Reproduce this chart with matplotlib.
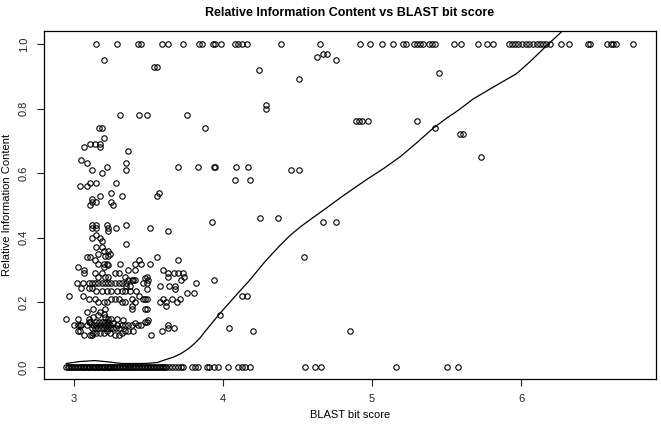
import numpy as np
import matplotlib
matplotlib.use('Agg')
import matplotlib.pyplot as plt

plt.rcParams['font.family'] = ['Liberation Sans', 'DejaVu Sans']

# points with Relative Information Content = 1.0
top_x = [3.15, 3.29, 3.43, 3.45, 3.59, 3.63, 3.73, 3.84, 3.86, 3.935, 3.95, 3.99,
         4.08, 4.10, 4.13, 4.16, 4.39, 4.65, 4.92, 4.99, 5.07, 5.14, 5.21, 5.23,
         5.28, 5.30, 5.32, 5.34, 5.38, 5.40, 5.42, 5.55, 5.60, 5.71, 5.77, 5.81,
         5.92, 5.94, 5.96, 5.98, 6.005, 6.03, 6.05, 6.08, 6.105, 6.13, 6.15, 6.17,
         6.195, 6.27, 6.32, 6.45, 6.46, 6.575, 6.60, 6.62, 6.64, 6.75]

# points with Relative Information Content = 0.0
zero_x = [2.95, 2.96, 2.97, 2.98, 2.99, 3.00, 3.01, 3.02, 3.03, 3.04, 3.05, 3.06,
          3.065, 3.07, 3.08, 3.09, 3.10, 3.105, 3.11, 3.12, 3.13, 3.135, 3.14, 3.15,
          3.16, 3.165, 3.17, 3.18, 3.19, 3.20, 3.205, 3.21, 3.22, 3.23, 3.235, 3.24,
          3.25, 3.26, 3.265, 3.27, 3.28, 3.29, 3.30, 3.31, 3.32, 3.33, 3.34, 3.35,
          3.36, 3.37, 3.38, 3.39, 3.40, 3.41, 3.42, 3.43, 3.44, 3.45, 3.46, 3.47,
          3.48, 3.49, 3.50, 3.51, 3.52, 3.53, 3.54, 3.55, 3.56, 3.57, 3.58, 3.59,
          3.60, 3.61, 3.62, 3.64, 3.66, 3.68, 3.70, 3.72, 3.73, 3.79, 3.81, 3.83,
          3.89, 3.91, 3.94, 3.97, 4.035, 4.10, 4.13, 4.15, 4.18, 4.55, 4.62, 4.66,
          5.16, 5.50, 5.58]

# everything in between
mid_pts = [
    (3.20, 0.95), (3.54, 0.93), (3.56, 0.93), (4.24, 0.92), (4.29, 0.81), (4.29, 0.80),
    (4.51, 0.89), (4.63, 0.96), (4.67, 0.97), (4.70, 0.97), (4.76, 0.95), (5.45, 0.91),
    (4.89, 0.76), (4.91, 0.76), (4.93, 0.76), (4.97, 0.76), (5.30, 0.76), (5.42, 0.74),
    (5.59, 0.72), (5.61, 0.72), (5.73, 0.65),
    (3.31, 0.78), (3.44, 0.78), (3.49, 0.78), (3.76, 0.78),
    (3.17, 0.74), (3.19, 0.74), (3.88, 0.74), (3.20, 0.71),
    (3.07, 0.68), (3.11, 0.69), (3.14, 0.69), (3.175, 0.69), (3.175, 0.68), (3.36, 0.67),
    (3.05, 0.64), (3.09, 0.63), (3.22, 0.62), (3.35, 0.63), (3.35, 0.61),
    (3.12, 0.61), (3.19, 0.60),
    (3.70, 0.62), (3.83, 0.62), (3.94, 0.62), (3.95, 0.62), (4.09, 0.62), (4.17, 0.62),
    (4.08, 0.58), (4.18, 0.58), (4.46, 0.61), (4.51, 0.61),
    (3.04, 0.56), (3.09, 0.56), (3.11, 0.57), (3.15, 0.57), (3.28, 0.57),
    (3.25, 0.54), (3.32, 0.53), (3.175, 0.53), (3.12, 0.52), (3.12, 0.51), (3.15, 0.51),
    (3.11, 0.50), (3.25, 0.51), (3.26, 0.50), (3.57, 0.54), (3.555, 0.53),
    (4.25, 0.46), (4.37, 0.46), (4.67, 0.45), (4.76, 0.45), (3.93, 0.45),
    (4.545, 0.34), (4.85, 0.11),
    (3.12, 0.44), (3.15, 0.44), (3.22, 0.44), (3.12, 0.43), (3.15, 0.43), (3.23, 0.43),
    (3.23, 0.42), (3.28, 0.43), (3.35, 0.44), (3.51, 0.43), (3.63, 0.42),
    (3.12, 0.40), (3.15, 0.41), (3.175, 0.40), (3.19, 0.39), (3.35, 0.38),
    (3.15, 0.37), (3.19, 0.37), (3.20, 0.36), (3.23, 0.36), (3.24, 0.35), (3.23, 0.345),
    (3.16, 0.35), (3.21, 0.345),
    (3.085, 0.34), (3.11, 0.34), (3.14, 0.33), (3.16, 0.32), (3.20, 0.32), (3.22, 0.32),
    (3.20, 0.31), (3.23, 0.315), (3.31, 0.32), (3.41, 0.32), (3.44, 0.33), (3.45, 0.32),
    (3.51, 0.32), (3.555, 0.34), (3.70, 0.33),
    (3.03, 0.31), (3.07, 0.30), (3.07, 0.29), (3.14, 0.29), (3.16, 0.28), (3.19, 0.29),
    (3.21, 0.28), (3.23, 0.28), (3.275, 0.29), (3.30, 0.29), (3.36, 0.30), (3.41, 0.30),
    (3.34, 0.28), (3.36, 0.27), (3.39, 0.27), (3.40, 0.27),
    (3.60, 0.30), (3.63, 0.29), (3.67, 0.29), (3.70, 0.29), (3.73, 0.29), (3.74, 0.28),
    (3.63, 0.28), (3.72, 0.27), (3.58, 0.25), (3.64, 0.25), (3.68, 0.25), (3.68, 0.24),
    (3.76, 0.23), (3.805, 0.23), (3.82, 0.26), (3.94, 0.27),
    (3.58, 0.20), (3.60, 0.21), (3.62, 0.20), (3.62, 0.19), (3.66, 0.21), (3.69, 0.20),
    (3.71, 0.21), (4.13, 0.22), (4.16, 0.22), (3.98, 0.16), (4.04, 0.12), (4.20, 0.11),
    (3.67, 0.12), (3.63, 0.13), (3.63, 0.12), (3.59, 0.11), (3.52, 0.10), (3.49, 0.14),
    (3.02, 0.26), (3.06, 0.26), (3.10, 0.26), (3.12, 0.26), (3.14, 0.26), (3.16, 0.26),
    (3.19, 0.26), (3.21, 0.26), (3.23, 0.26), (3.25, 0.26), (3.275, 0.26), (3.30, 0.26),
    (3.32, 0.26), (3.35, 0.26), (3.465, 0.26), (3.49, 0.26), (3.48, 0.275),
    (3.41, 0.27), (3.38, 0.25), (3.35, 0.25), (3.50, 0.27), (3.49, 0.28), (3.49, 0.24),
    (3.05, 0.245), (3.10, 0.245), (3.12, 0.245), (3.15, 0.235), (3.19, 0.235),
    (3.22, 0.235), (3.25, 0.235), (3.29, 0.235), (3.32, 0.235), (3.34, 0.235),
    (3.38, 0.235), (3.42, 0.235), (3.44, 0.22), (3.465, 0.21), (3.49, 0.21),
    (2.97, 0.22), (3.06, 0.22), (3.10, 0.21), (3.14, 0.21), (3.16, 0.20), (3.20, 0.20),
    (3.22, 0.20), (3.25, 0.21), (3.275, 0.21), (3.30, 0.21), (3.32, 0.20), (3.34, 0.20),
    (3.39, 0.21), (3.41, 0.20), (3.48, 0.21),
    (3.085, 0.17), (3.13, 0.18), (3.175, 0.17), (3.21, 0.18), (3.39, 0.18), (3.39, 0.19),
    (3.48, 0.18), (3.49, 0.18),
    (2.95, 0.15), (3.03, 0.15), (3.10, 0.15), (3.11, 0.14), (3.13, 0.155), (3.16, 0.16),
    (3.20, 0.165), (3.21, 0.155), (3.23, 0.15), (3.25, 0.15), (3.29, 0.15), (3.33, 0.145),
    (3.00, 0.13), (3.04, 0.13), (3.03, 0.13), (3.05, 0.13), (3.085, 0.13), (3.10, 0.14),
    (3.13, 0.13), (3.15, 0.13), (3.175, 0.13), (3.20, 0.13), (3.22, 0.13), (3.24, 0.13),
    (3.26, 0.135), (3.29, 0.13), (3.32, 0.13), (3.34, 0.13), (3.36, 0.13), (3.39, 0.13),
    (3.41, 0.135), (3.43, 0.13), (3.45, 0.13), (3.48, 0.14), (3.50, 0.145),
    (3.12, 0.12), (3.14, 0.12), (3.16, 0.12), (3.18, 0.12), (3.20, 0.12), (3.22, 0.12),
    (3.24, 0.12), (3.26, 0.12), (3.28, 0.12), (3.30, 0.12),
    (3.15, 0.14), (3.17, 0.14), (3.19, 0.14), (3.21, 0.14), (3.23, 0.14),
    (3.03, 0.11), (3.04, 0.11), (3.07, 0.10), (3.11, 0.10), (3.12, 0.10), (3.13, 0.105),
    (3.15, 0.105), (3.175, 0.105), (3.20, 0.105), (3.22, 0.11), (3.24, 0.105),
    (3.275, 0.10), (3.30, 0.10), (3.32, 0.105), (3.34, 0.11), (3.36, 0.11), (3.40, 0.11),
]

# lowess smoother
smooth_x = [2.95, 3.04, 3.14, 3.23, 3.32, 3.48, 3.56, 3.61, 3.67, 3.72, 3.77, 3.81,
            3.85, 3.88, 3.93, 3.98, 4.08, 4.18, 4.28, 4.38, 4.45, 4.52, 4.60, 4.67,
            4.80, 4.96, 5.08, 5.19, 5.30, 5.41, 5.50, 5.58, 5.68, 5.82, 5.97, 6.06,
            6.15, 6.284]
smooth_y = [0.011, 0.017, 0.020, 0.016, 0.011, 0.011, 0.014, 0.022, 0.031, 0.042,
            0.057, 0.073, 0.092, 0.110, 0.138, 0.166, 0.218, 0.269, 0.325, 0.375,
            0.407, 0.434, 0.461, 0.484, 0.528, 0.579, 0.615, 0.651, 0.694, 0.739,
            0.770, 0.795, 0.830, 0.868, 0.908, 0.945, 0.985, 1.043]

mid_x = [p[0] for p in mid_pts]
mid_y = [p[1] for p in mid_pts]

xs = np.array(top_x + zero_x + mid_x)
ys = np.array([1.0] * len(top_x) + [0.0] * len(zero_x) + mid_y)

fig = plt.figure(figsize=(6.61, 4.28), dpi=100)
ax = fig.add_axes([0.0666, 0.1145, 0.9258, 0.8131])

ax.plot(xs, ys, linestyle='none', marker='o', markersize=3.9,
        markerfacecolor='none', markeredgecolor='black', markeredgewidth=0.8)
ax.plot(smooth_x, smooth_y, color='black', linewidth=0.9)

ax.set_xlim(2.80, 6.905)
ax.set_ylim(-0.037, 1.040)
ax.set_xticks([3, 4, 5, 6])
ax.set_xticklabels(['3', '4', '5', '6'])
ax.set_yticks([0.0, 0.2, 0.4, 0.6, 0.8, 1.0])
ax.set_yticklabels(['0.0', '0.2', '0.4', '0.6', '0.8', '1.0'], rotation=90, va='center')
ax.tick_params(direction='out', length=5, width=0.8, labelsize=8, pad=6,
               colors='#222222')
for s in ax.spines.values():
    s.set_linewidth(0.9)

ax.set_title('Relative Information Content vs BLAST bit score',
             fontsize=9, fontweight='bold', pad=11)
ax.set_xlabel('BLAST bit score', fontsize=8, labelpad=4)
ax.set_ylabel('Relative Information Content', fontsize=8, labelpad=5)

fig.savefig('out.png', dpi=100)
